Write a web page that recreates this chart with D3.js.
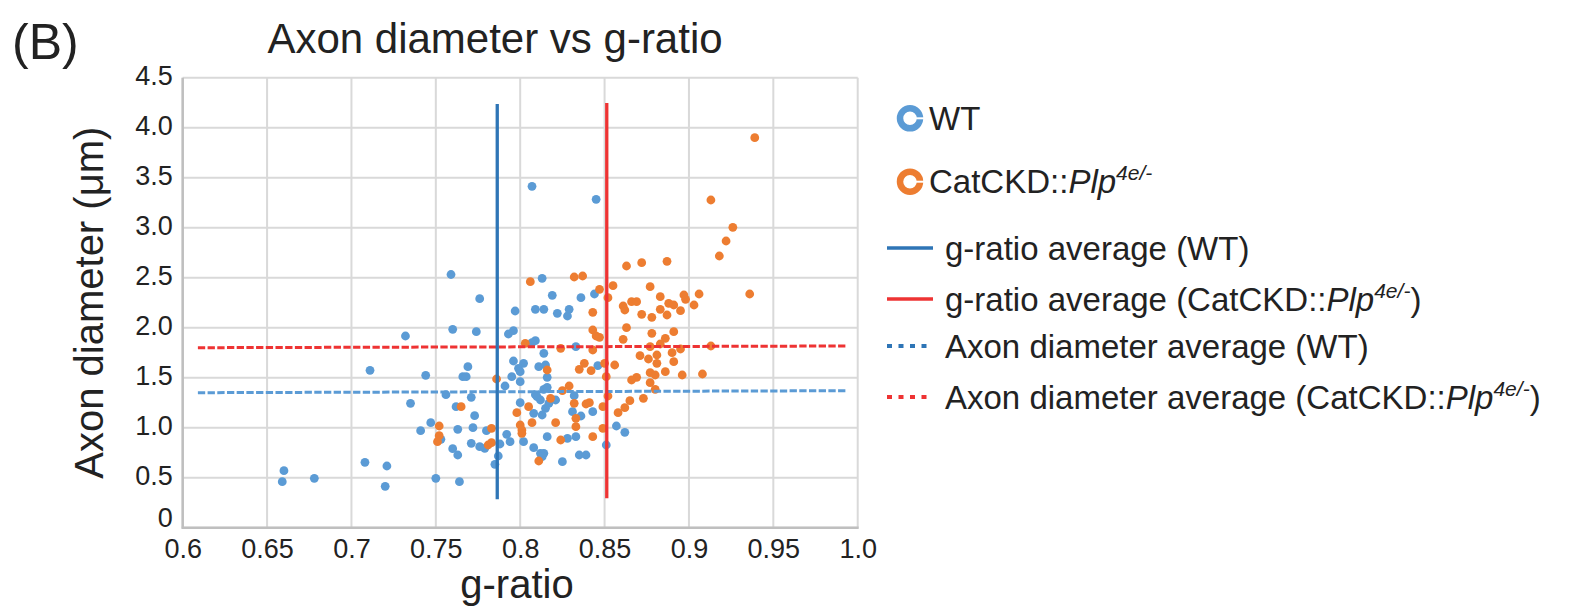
<!DOCTYPE html>
<html>
<head>
<meta charset="utf-8">
<script src="https://cdn.jsdelivr.net/npm/d3@7"></script>
<style>
  body { margin: 0; background: #fff; }
  svg { display: block; font-family: Arial, "Liberation Sans", sans-serif; }
</style>
</head>
<body>
<svg id="chart" width="1584" height="613"></svg>
<script>
// g-ratio / axon diameter (um) pairs
const wtPoints = [
  [0.660,0.570],[0.659,0.460],[0.678,0.494],[0.708,0.654],[0.721,0.617],[0.720,0.414],[0.750,0.494],[0.764,0.460],
  [0.711,1.574],[0.732,1.917],[0.744,1.524],[0.756,1.330],[0.735,1.244],[0.762,1.210],[0.747,1.050],[0.741,0.970],
  [0.763,0.984],[0.753,0.884],[0.760,0.790],[0.763,0.727],[0.760,1.984],[0.774,1.960],[0.759,2.532],[0.776,2.290],
  [0.807,3.414],[0.845,3.284],[0.813,2.494],[0.819,2.324],[0.836,2.300],[0.844,2.337],[0.797,2.167],[0.809,2.184],
  [0.814,2.184],[0.822,2.144],[0.828,2.117],[0.829,2.184],[0.793,1.937],[0.796,1.970],[0.809,1.870],[0.807,1.850],
  [0.814,1.744],[0.833,1.810],[0.769,1.610],[0.766,1.510],[0.768,1.510],[0.796,1.667],[0.802,1.644],[0.799,1.594],
  [0.800,1.560],[0.811,1.610],[0.815,1.627],[0.795,1.510],[0.800,1.460],[0.816,1.504],[0.791,1.417],[0.771,1.304],
  [0.810,1.310],[0.814,1.384],[0.816,1.404],[0.812,1.277],[0.815,1.194],[0.813,1.127],[0.817,1.244],[0.821,1.277],
  [0.800,1.250],[0.808,1.144],[0.773,1.120],[0.832,1.320],[0.831,1.160],[0.836,1.117],[0.843,1.160],[0.809,1.330],
  [0.772,1.000],[0.780,0.970],[0.771,0.844],[0.776,0.810],[0.779,0.794],[0.788,0.837],[0.792,0.934],[0.794,0.860],
  [0.802,0.860],[0.808,0.800],[0.816,0.910],[0.812,0.744],[0.814,0.744],[0.813,0.710],[0.828,0.894],[0.833,0.910],
  [0.835,0.727],[0.839,0.727],[0.825,0.660],[0.851,0.827],[0.857,1.017],[0.862,0.954],[0.787,0.717],[0.785,0.634],
  [0.846,1.620]
];
const catPoints = [
  [0.752,1.017],[0.752,0.920],[0.751,0.860],[0.765,1.210],[0.786,1.487],[0.781,0.827],[0.783,0.850],[0.783,0.994],
  [0.803,1.844],[0.824,1.794],[0.843,1.777],[0.843,2.154],[0.843,1.977],[0.845,1.917],[0.847,1.904],[0.816,1.577],
  [0.835,1.584],[0.838,1.644],[0.842,1.570],[0.850,1.644],[0.856,1.627],[0.851,1.510],[0.818,1.294],[0.825,1.370],
  [0.829,1.417],[0.832,1.244],[0.839,1.237],[0.841,1.250],[0.849,1.210],[0.798,1.150],[0.805,1.210],[0.807,1.050],
  [0.800,1.027],[0.801,0.977],[0.801,0.944],[0.821,1.050],[0.833,1.094],[0.833,1.010],[0.849,0.994],[0.824,0.877],
  [0.843,0.910],[0.811,0.667],[0.926,3.004],[0.922,2.867],[0.918,2.717],[0.863,2.617],[0.872,2.650],[0.887,2.664],
  [0.837,2.517],[0.832,2.507],[0.806,2.460],[0.855,2.420],[0.847,2.384],[0.852,2.300],[0.877,2.410],[0.883,2.310],
  [0.897,2.327],[0.898,2.284],[0.906,2.337],[0.903,2.227],[0.936,2.337],[0.861,2.217],[0.862,2.177],[0.866,2.260],
  [0.869,2.260],[0.883,2.184],[0.888,2.244],[0.891,2.227],[0.895,2.170],[0.872,2.134],[0.878,2.104],[0.887,2.127],
  [0.863,2.000],[0.878,1.944],[0.891,1.960],[0.861,1.884],[0.886,1.894],[0.883,1.837],[0.877,1.810],[0.913,1.817],
  [0.871,1.720],[0.876,1.687],[0.881,1.727],[0.881,1.644],[0.890,1.750],[0.895,1.787],[0.891,1.660],[0.877,1.550],
  [0.880,1.527],[0.886,1.560],[0.896,1.527],[0.908,1.537],[0.869,1.504],[0.866,1.477],[0.877,1.450],[0.880,1.384],
  [0.852,1.317],[0.865,1.270],[0.873,1.294],[0.862,1.200],[0.858,1.150],[0.939,3.900],[0.913,3.277]
];

// average lines: g-ratio averages (vertical) and axon diameter averages (horizontal)
const gRatioAvg = [0.7864, 0.8513];              // WT, CatCKD
const gRatioAvgSpan = [[0.284, 4.237], [0.294, 4.247]];
const diamAvgSpanX = [0.609, 0.993];
const diamAvg = [[1.350, 1.370], [1.800, 1.817]]; // [left, right] WT, CatCKD

const xTicks = [0.6, 0.65, 0.7, 0.75, 0.8, 0.85, 0.9, 0.95, 1.0];
const xTickLabels = ["0.6", "0.65", "0.7", "0.75", "0.8", "0.85", "0.9", "0.95", "1.0"];
const yTicks = [0, 0.5, 1, 1.5, 2, 2.5, 3, 3.5, 4, 4.5];
const yTickLabels = ["0", "0.5", "1.0", "1.5", "2.0", "2.5", "3.0", "3.5", "4.0", "4.5"];

const blueDot = "#5b9bd5", orangeDot = "#ed7d31";
const blueLine = "#2e75b6", redLine = "#ee3333";

const svg = d3.select("#chart");

const x = d3.scaleLinear().domain([0.6, 1.0]).range([182.7, 857.7]);
const y = d3.scaleLinear().domain([0, 4.5]).range([527.7, 77.7]);

// gridlines
svg.append("g").selectAll("line")
    .data(xTicks).enter().append("line")
    .attr("x1", d => x(d)).attr("x2", d => x(d))
    .attr("y1", y(0)).attr("y2", y(4.5))
    .style("stroke", "#d9d9d9").style("stroke-width", 2);
svg.append("g").selectAll("line")
    .data(yTicks).enter().append("line")
    .attr("x1", x(0.6)).attr("x2", x(1.0))
    .attr("y1", d => y(d)).attr("y2", d => y(d))
    .style("stroke", "#d9d9d9").style("stroke-width", 2);

// axes (labels only, lines drawn by hand below)
const xAxis = svg.append("g")
    .attr("transform", "translate(0," + y(0) + ")")
    .call(d3.axisBottom(x).tickValues(xTicks).tickSize(0).tickPadding(11)
        .tickFormat((d, i) => xTickLabels[i]));
const yAxis = svg.append("g")
    .attr("transform", "translate(" + x(0.6) + ",0)")
    .call(d3.axisLeft(y).tickValues(yTicks).tickSize(0).tickPadding(10)
        .tickFormat((d, i) => yTickLabels[i]));
[xAxis, yAxis].forEach(a => {
    a.select(".domain").remove();
    a.selectAll("text").style("font-size", "27px").style("fill", "#222")
        .style("font-family", "Arial, 'Liberation Sans', sans-serif");
});
// the "0" label sits a little higher than the rest, clear of the x labels
yAxis.selectAll("text").attr("dy", d => d === 0 ? "-0.05em" : "0.24em");

svg.append("line").attr("x1", x(0.6)).attr("x2", x(0.6)).attr("y1", y(4.5)).attr("y2", y(0) + 1)
    .style("stroke", "#bfbfbf").style("stroke-width", 2.5);
svg.append("line").attr("x1", x(0.6) - 1).attr("x2", x(1.0) + 1).attr("y1", y(0)).attr("y2", y(0))
    .style("stroke", "#bfbfbf").style("stroke-width", 2.5);

// scatter points
svg.append("g").selectAll("circle")
    .data(wtPoints).enter().append("circle")
    .attr("cx", d => x(d[0])).attr("cy", d => y(d[1])).attr("r", 4.4)
    .style("fill", blueDot);
svg.append("g").selectAll("circle")
    .data(catPoints).enter().append("circle")
    .attr("cx", d => x(d[0])).attr("cy", d => y(d[1])).attr("r", 4.4)
    .style("fill", orangeDot);

// average lines
const line = d3.line().x(d => x(d[0])).y(d => y(d[1]));
svg.append("path")
    .attr("d", line(diamAvgSpanX.map((g, i) => [g, diamAvg[0][i]])))
    .style("fill", "none").style("stroke", blueDot).style("stroke-width", 3)
    .style("stroke-dasharray", "7.3,2.4");
svg.append("path")
    .attr("d", line(diamAvgSpanX.map((g, i) => [g, diamAvg[1][i]])))
    .style("fill", "none").style("stroke", redLine).style("stroke-width", 3)
    .style("stroke-dasharray", "7.3,2.4");
svg.append("path")
    .attr("d", line(gRatioAvgSpan[0].map(v => [gRatioAvg[0], v])))
    .style("fill", "none").style("stroke", blueLine).style("stroke-width", 3.3);
svg.append("path")
    .attr("d", line(gRatioAvgSpan[1].map(v => [gRatioAvg[1], v])))
    .style("fill", "none").style("stroke", redLine).style("stroke-width", 3.3);

// titles
svg.append("text").attr("x", 12).attr("y", 59)
    .style("font-size", "50px").style("fill", "#222").text("(B)");
svg.append("text").attr("x", 495).attr("y", 53).attr("text-anchor", "middle")
    .style("font-size", "42px").style("fill", "#222").text("Axon diameter vs g-ratio");
svg.append("text").attr("x", 517).attr("y", 598).attr("text-anchor", "middle")
    .style("font-size", "40px").style("fill", "#222").text("g-ratio");
svg.append("text")
    .attr("transform", "translate(103," + ((y(0) + y(4.5)) / 2) + ") rotate(-90)")
    .attr("text-anchor", "middle")
    .style("font-size", "40px").style("fill", "#222").text("Axon diameter (\u03bcm)");

// legend
const lg = svg.append("g").style("font-size", "33px").style("fill", "#222");

function genotype(t, prefix, close) {
    t.append("tspan").text(prefix);
    t.append("tspan").style("font-style", "italic").text("Plp");
    t.append("tspan").style("font-style", "italic").style("font-size", "21px")
        .attr("dy", -13).text("4e/-");
    if (close) t.append("tspan").attr("dy", 13).text(")");
}

[[118.3, blueDot, "WT"], [181.7, orangeDot, null]].forEach(([ly, c, label]) => {
    lg.append("circle").attr("cx", 910).attr("cy", ly).attr("r", 10)
        .style("fill", "#fff").style("stroke", c).style("stroke-width", 6.5);
    lg.append("line").attr("x1", 910).attr("x2", 924).attr("y1", ly).attr("y2", ly)
        .style("stroke", "#fff").style("stroke-width", 2);
    const t = lg.append("text").attr("x", 929).attr("y", ly + 11.5);
    if (label) t.text(label); else genotype(t, "CatCKD::", false);
});

const lineRows = [
    [248, blueLine, null, "g-ratio average (WT)"],
    [299, redLine, null, "g-ratio average (CatCKD::"],
    [346, blueLine, "5,6.5", "Axon diameter average (WT)"],
    [397, redLine, "5,6.5", "Axon diameter average (CatCKD::"]
];
lineRows.forEach(([ly, c, dash, label]) => {
    lg.append("line").attr("x1", 887).attr("x2", 933).attr("y1", ly).attr("y2", ly)
        .style("stroke", c).style("stroke-width", dash ? 4 : 3.5)
        .style("stroke-dasharray", dash);
    const t = lg.append("text").attr("x", 945).attr("y", ly + 11.5);
    if (label.endsWith("::")) genotype(t, label, true); else t.text(label);
});
</script>
</body>
</html>
